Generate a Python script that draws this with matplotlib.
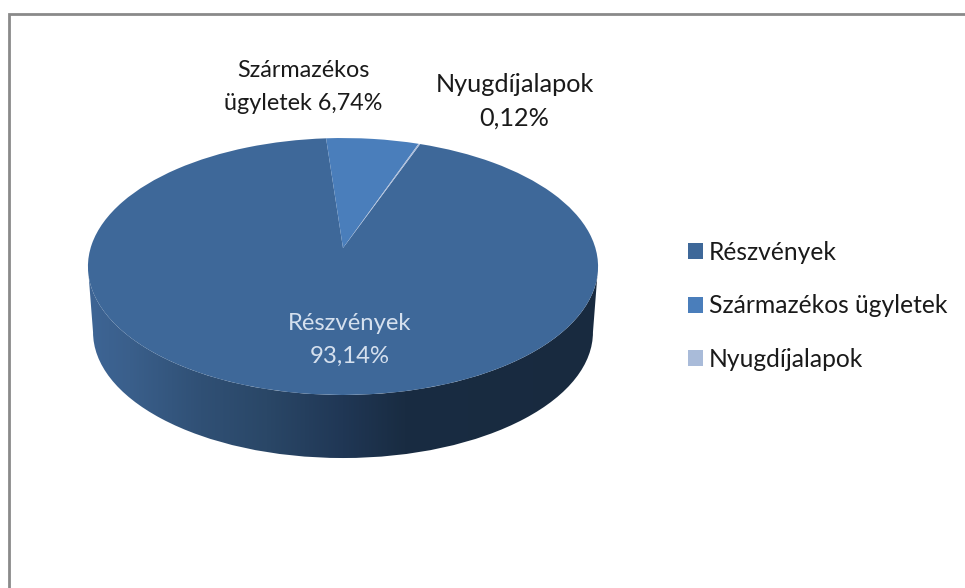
import numpy as np
import matplotlib
matplotlib.use('Agg')
from matplotlib import pyplot as plt
from matplotlib.colors import LinearSegmentedColormap
from matplotlib.patches import PathPatch, Patch
from matplotlib.path import Path

categories = ['Részvények', 'Származékos ügyletek', 'Nyugdíjalapok']
shares = [93.14, 6.74, 0.12]
colors = ['#3e6899', '#4a7ebb', '#a9bbd9']

plt.rcParams['font.family'] = ['Lato', 'DejaVu Sans']


def pct(v):
    return ('%.2f%%' % v).replace('.', ',')


# fake perspective for the tilted disc, pixels of the picture
cx, cy = 343, 248
k = 0.144
a = 252.4
b = 125.8


def project(v, scale=1.0, drop=0.0):
    w = 1 + k * v[:, 1]
    return np.column_stack([cx + scale * a * v[:, 0] / w,
                            cy - scale * b * v[:, 1] / w + drop])


fig = plt.figure(figsize=(9.65, 5.88), dpi=100)
ax = fig.add_axes([0, 0, 1, 1])

# the pie works out the wedges, then they get tilted
wedges, _ = ax.pie(shares, colors=colors, startangle=69.7, counterclock=False, frame=True)
for w in wedges:
    p = w.get_path()
    verts = project(p.vertices)
    w.remove()
    ax.add_patch(PathPatch(Path(verts, p.codes), fc=w.get_facecolor(), ec='none', zorder=3))

# side of the disc
tilt = np.degrees(np.arcsin(k))
rim = Path.arc(180 + tilt, 360 - tilt)
top = project(rim.vertices)
bottom = project(rim.vertices, scale=0.98, drop=66)
side = Path(np.vstack([top, bottom[::-1]]),
            list(rim.codes) + [Path.LINETO] + list(rim.codes[1:]))
side_patch = PathPatch(side, fc='none', ec='none', transform=ax.transData)
ax.add_patch(side_patch)
side_cmap = LinearSegmentedColormap.from_list('side', [
    (0.0, '#3e6595'), (0.08, '#3a5f8b'), (0.22, '#305075'), (0.35, '#2a4767'),
    (0.5, '#203755'), (0.62, '#192c42'), (1.0, '#182a3f')])
img = ax.imshow(np.linspace(0, 1, 256)[None, :], cmap=side_cmap, aspect='auto',
                extent=(88, 598, 470, 260), zorder=2)
img.set_clip_path(side_patch)

ax.set_xlim(0, 965)
ax.set_ylim(588, 0)
ax.set_aspect('auto')
ax.axis('off')

# chart frame, cut off by the screenshot on the right and bottom
ax.plot([9, 9, 965], [588, 14, 14], color='#8a8a8a', lw=2, solid_joinstyle='miter', zorder=5)

ax.text(303.5, 87, 'Származékos\nügyletek ' + pct(shares[1]), ha='center', va='center',
        fontsize=16.8, color='#1a1a1a', linespacing=1.72, zorder=6)
ax.text(514.5, 101, categories[2] + '\n' + pct(shares[2]), ha='center', va='center',
        fontsize=18.2, color='#1a1a1a', linespacing=1.55, zorder=6)
ax.text(350, 340, categories[0] + '\n' + pct(shares[0]), ha='center', va='center',
        fontsize=17.2, color='#d5e0ee', linespacing=1.7, zorder=6)

handles = [Patch(fc=c, ec='none') for c in colors]
ax.legend(handles, categories, loc='upper left', bbox_to_anchor=(688, 241),
          bbox_transform=ax.transData, frameon=False, fontsize=17.7,
          handlelength=0.61, handleheight=0.61, handletextpad=0.25, labelspacing=1.24,
          borderpad=0, borderaxespad=0, labelcolor='#1a1a1a')

fig.savefig('out.png', dpi=100)
